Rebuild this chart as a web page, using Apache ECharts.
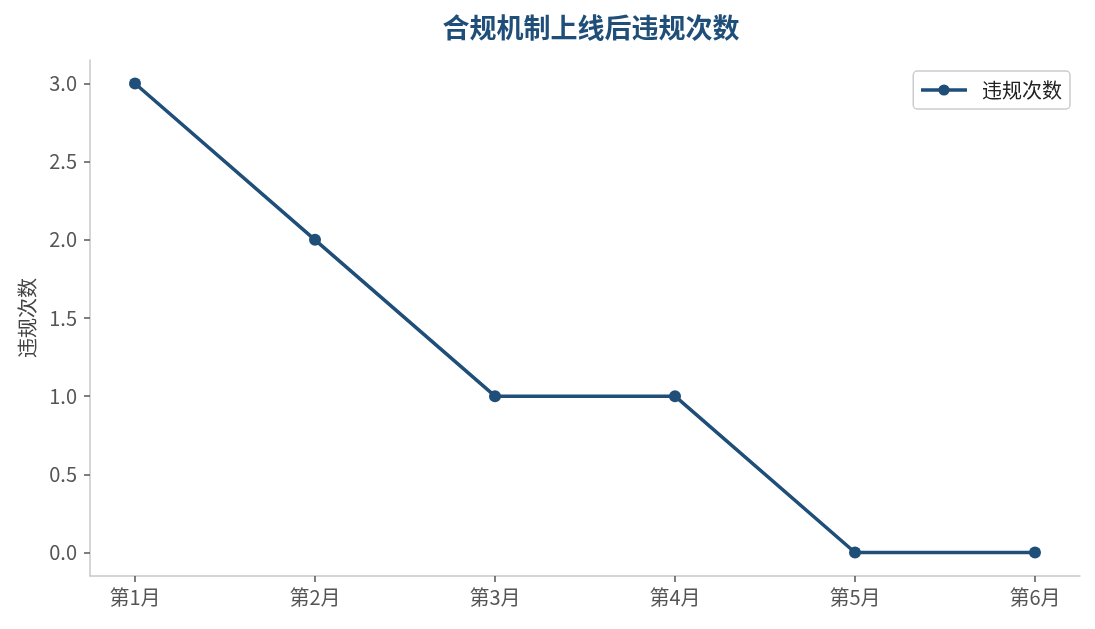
<!DOCTYPE html>
<html>
<head>
<meta charset="utf-8">
<script src="https://cdn.jsdelivr.net/npm/echarts@6/dist/echarts.min.js"></script>
<style>
  html, body { margin: 0; padding: 0; background: #fff; }
  #container { width: 1095px; height: 629px; }
</style>
</head>
<body>
<div id="container"></div>
<script>
// 数据
var months = ['第1月', '第2月', '第3月', '第4月', '第5月', '第6月'];
var counts = [3, 2, 1, 1, 0, 0];
var yTicks = [0, 0.5, 1, 1.5, 2, 2.5, 3];

var fontCJK = '"Noto Sans CJK SC", "Noto Sans", sans-serif';
var mainColor = '#1f4e79';

var dom = document.getElementById('container');
var myChart = echarts.init(dom);

var xIdx = months.map(function(m, i) { return i; });

var option = {
	animation: false,
	textStyle: { fontFamily: fontCJK },
	title: {
		text: '合规机制上线后违规次数',
		left: 586,
		textAlign: 'center',
		top: 9,
		textStyle: {
			fontFamily: fontCJK,
			fontSize: 27,
			fontWeight: 'bold',
			color: mainColor
		}
	},
	legend: {
		right: 25,
		top: 71,
		padding: [9, 8, 9, 6],
		borderColor: '#cccccc',
		borderWidth: 1.5,
		borderRadius: 4,
		itemWidth: 46,
		itemHeight: 14,
		itemGap: 10,
		lineStyle: { width: 3.5, color: mainColor },
		textStyle: { fontSize: 20, color: '#222', fontFamily: fontCJK, padding: [0, 0, 0, 10] },
		data: ['违规次数']
	},
	grid: {
		left: 90,
		right: 15,
		top: 60,
		bottom: 53
	},
	xAxis: {
		type: 'value',
		min: -0.25,
		max: 5.25,
		splitLine: { show: false },
		axisLine: { onZero: false, lineStyle: { color: '#c8c8c8', width: 1.5 } },
		axisTick: {
			customValues: xIdx,
			length: 6,
			lineStyle: { color: '#555', width: 1.5 }
		},
		axisLabel: {
			customValues: xIdx,
			margin: 11,
			fontSize: 20,
			color: '#555',
			formatter: function(v) {
				return months[Math.round(v)];
			}
		}
	},
	yAxis: {
		type: 'value',
		name: '违规次数',
		nameLocation: 'middle',
		nameGap: 53,
		nameTextStyle: { fontSize: 20, color: '#444', fontFamily: fontCJK },
		min: -0.15,
		max: 3.15,
		splitLine: { show: false },
		axisLine: { show: true, onZero: false, lineStyle: { color: '#c8c8c8', width: 1.5 } },
		axisTick: {
			show: true,
			customValues: yTicks,
			length: 6,
			lineStyle: { color: '#555', width: 1.5 }
		},
		axisLabel: {
			customValues: yTicks,
			margin: 13,
			fontSize: 20,
			color: '#555',
			formatter: function(v) {
				return v.toFixed(1);
			}
		}
	},
	series: [{
		name: '违规次数',
		type: 'line',
		data: counts.map(function(c, i) { return [i, c]; }),
		symbol: 'circle',
		symbolSize: 12,
		lineStyle: { color: mainColor, width: 3.5 },
		itemStyle: { color: mainColor }
	}]
};

myChart.setOption(option);
</script>
</body>
</html>
